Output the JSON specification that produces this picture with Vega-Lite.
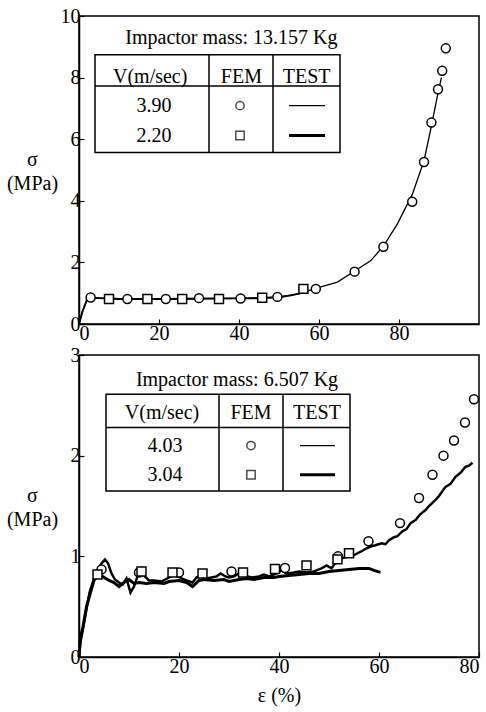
{
"$schema":"https://vega.github.io/schema/vega-lite/v6.json",
"background":"white",
"padding":5,
"spacing":0,
"config":{"view":{"stroke":"black","strokeWidth":1.5},"font":"Liberation Serif",
"axis":{"labelFont":"Liberation Serif","labelFontSize":20,"labelColor":"black","domainColor":"black","domainWidth":1.5,"tickColor":"black","tickSize":-5,"tickWidth":1.2,"labelPadding":4,"grid":false,"titleFont":"Liberation Serif","titleFontSize":20,"titleFontWeight":"normal","titleColor":"black"},
"text":{"font":"Liberation Serif","fontSize":20,"color":"black"}},
"datasets":{
"topFem":[
{"v":"3.90","x":2.9,"y":0.86},{"v":"3.90","x":12.1,"y":0.81},{"v":"3.90","x":21.7,"y":0.81},{"v":"3.90","x":30.0,"y":0.84},{"v":"3.90","x":40.4,"y":0.83},{"v":"3.90","x":49.6,"y":0.88},{"v":"3.90","x":59.2,"y":1.14},{"v":"3.90","x":68.9,"y":1.70},{"v":"3.90","x":76.1,"y":2.51},{"v":"3.90","x":83.3,"y":3.97},{"v":"3.90","x":86.25,"y":5.26},{"v":"3.90","x":88.1,"y":6.54},{"v":"3.90","x":89.75,"y":7.62},{"v":"3.90","x":90.8,"y":8.22},{"v":"3.90","x":91.7,"y":8.95},
{"v":"2.20","x":7.5,"y":0.81},{"v":"2.20","x":17.1,"y":0.81},{"v":"2.20","x":25.8,"y":0.81},{"v":"2.20","x":35.0,"y":0.81},{"v":"2.20","x":45.8,"y":0.85},{"v":"2.20","x":56.1,"y":1.14}],
"topTest":[
{"v":"3.90","x":0,"y":0},{"v":"3.90","x":0.8,"y":0.38},{"v":"3.90","x":2,"y":0.78},{"v":"3.90","x":3,"y":0.88},{"v":"3.90","x":5,"y":0.84},{"v":"3.90","x":10,"y":0.82},{"v":"3.90","x":15,"y":0.82},{"v":"3.90","x":20,"y":0.81},{"v":"3.90","x":25,"y":0.82},{"v":"3.90","x":30,"y":0.83},{"v":"3.90","x":35,"y":0.83},{"v":"3.90","x":40,"y":0.83},{"v":"3.90","x":45,"y":0.85},{"v":"3.90","x":50,"y":0.88},{"v":"3.90","x":55,"y":0.98},{"v":"3.90","x":59.6,"y":1.17},{"v":"3.90","x":64.6,"y":1.36},{"v":"3.90","x":68.9,"y":1.72},{"v":"3.90","x":72.9,"y":2.05},{"v":"3.90","x":76.25,"y":2.55},{"v":"3.90","x":79.6,"y":3.25},{"v":"3.90","x":83.3,"y":4.2},{"v":"3.90","x":86.25,"y":5.3},{"v":"3.90","x":87.9,"y":6.3},{"v":"3.90","x":89.6,"y":7.4},{"v":"3.90","x":90.6,"y":8.0},
{"v":"2.20","x":0,"y":0},{"v":"2.20","x":0.8,"y":0.38},{"v":"2.20","x":2,"y":0.8},{"v":"2.20","x":3,"y":0.85},{"v":"2.20","x":5,"y":0.84},{"v":"2.20","x":10,"y":0.81},{"v":"2.20","x":20,"y":0.81},{"v":"2.20","x":30,"y":0.82},{"v":"2.20","x":40,"y":0.83},{"v":"2.20","x":46,"y":0.84},{"v":"2.20","x":50,"y":0.87},{"v":"2.20","x":53,"y":0.93},{"v":"2.20","x":56,"y":1.02}],
"botFem":[
{"v":"4.03","x":4.5,"y":0.87},{"v":"4.03","x":12,"y":0.84},{"v":"4.03","x":20,"y":0.84},{"v":"4.03","x":30.5,"y":0.85},{"v":"4.03","x":41.2,"y":0.885},{"v":"4.03","x":51.8,"y":1.0},{"v":"4.03","x":57.9,"y":1.15},{"v":"4.03","x":64.2,"y":1.33},{"v":"4.03","x":68.0,"y":1.58},{"v":"4.03","x":70.7,"y":1.81},{"v":"4.03","x":72.9,"y":2.0},{"v":"4.03","x":75.0,"y":2.15},{"v":"4.03","x":77.2,"y":2.33},{"v":"4.03","x":79.0,"y":2.56},
{"v":"3.04","x":3.7,"y":0.82},{"v":"3.04","x":12.5,"y":0.85},{"v":"3.04","x":18.7,"y":0.84},{"v":"3.04","x":24.7,"y":0.83},{"v":"3.04","x":32.8,"y":0.84},{"v":"3.04","x":39.2,"y":0.875},{"v":"3.04","x":45.5,"y":0.91},{"v":"3.04","x":51.7,"y":0.97},{"v":"3.04","x":54.0,"y":1.03}],
"botTest":[
{"v":"4.03","x":0,"y":0},{"v":"4.03","x":0.3,"y":0.15},{"v":"4.03","x":0.7,"y":0.25},{"v":"4.03","x":1.4,"y":0.45},{"v":"4.03","x":2.1,"y":0.64},{"v":"4.03","x":3,"y":0.78},{"v":"4.03","x":3.7,"y":0.86},{"v":"4.03","x":4.5,"y":0.93},{"v":"4.03","x":5.2,"y":0.97},{"v":"4.03","x":5.8,"y":0.93},{"v":"4.03","x":6.5,"y":0.83},{"v":"4.03","x":7.2,"y":0.77},{"v":"4.03","x":8,"y":0.74},{"v":"4.03","x":8.7,"y":0.72},{"v":"4.03","x":9.5,"y":0.78},{"v":"4.03","x":10.3,"y":0.64},{"v":"4.03","x":11,"y":0.7},{"v":"4.03","x":11.7,"y":0.8},{"v":"4.03","x":12.5,"y":0.88},{"v":"4.03","x":13.2,"y":0.8},{"v":"4.03","x":14,"y":0.76},{"v":"4.03","x":15,"y":0.76},{"v":"4.03","x":16.5,"y":0.75},{"v":"4.03","x":18,"y":0.79},{"v":"4.03","x":19.3,"y":0.82},{"v":"4.03","x":20.5,"y":0.78},{"v":"4.03","x":21.5,"y":0.76},{"v":"4.03","x":22.7,"y":0.74},{"v":"4.03","x":23.5,"y":0.79},{"v":"4.03","x":24.5,"y":0.82},{"v":"4.03","x":25.5,"y":0.78},{"v":"4.03","x":26.5,"y":0.79},{"v":"4.03","x":27.5,"y":0.8},{"v":"4.03","x":28.3,"y":0.83},{"v":"4.03","x":29.3,"y":0.8},{"v":"4.03","x":30,"y":0.79},{"v":"4.03","x":31,"y":0.8},{"v":"4.03","x":32,"y":0.83},{"v":"4.03","x":33,"y":0.81},{"v":"4.03","x":34.5,"y":0.79},{"v":"4.03","x":36,"y":0.8},{"v":"4.03","x":37,"y":0.82},{"v":"4.03","x":38,"y":0.8},{"v":"4.03","x":39.5,"y":0.83},{"v":"4.03","x":40.5,"y":0.86},{"v":"4.03","x":41.5,"y":0.83},{"v":"4.03","x":43,"y":0.84},{"v":"4.03","x":44,"y":0.85},{"v":"4.03","x":45.5,"y":0.84},{"v":"4.03","x":47,"y":0.85},{"v":"4.03","x":48.5,"y":0.88},{"v":"4.03","x":49.5,"y":0.91},{"v":"4.03","x":50.5,"y":0.88},{"v":"4.03","x":51.5,"y":0.95},{"v":"4.03","x":52.5,"y":0.98},{"v":"4.03","x":54,"y":1.0},{"v":"4.03","x":55.3,"y":1.02},{"v":"4.03","x":56.5,"y":1.05},{"v":"4.03","x":57.5,"y":1.08},{"v":"4.03","x":58.5,"y":1.1},{"v":"4.03","x":59.3,"y":1.11},{"v":"4.03","x":60.5,"y":1.13},{"v":"4.03","x":61.3,"y":1.12},{"v":"4.03","x":62,"y":1.16},{"v":"4.03","x":63,"y":1.19},{"v":"4.03","x":63.7,"y":1.2},{"v":"4.03","x":64.7,"y":1.25},{"v":"4.03","x":65.5,"y":1.27},{"v":"4.03","x":66.3,"y":1.33},{"v":"4.03","x":67.3,"y":1.36},{"v":"4.03","x":68.3,"y":1.42},{"v":"4.03","x":69.3,"y":1.46},{"v":"4.03","x":70,"y":1.5},{"v":"4.03","x":71.3,"y":1.56},{"v":"4.03","x":72,"y":1.6},{"v":"4.03","x":73.3,"y":1.69},{"v":"4.03","x":74.3,"y":1.72},{"v":"4.03","x":75.3,"y":1.79},{"v":"4.03","x":76.3,"y":1.83},{"v":"4.03","x":77.3,"y":1.89},{"v":"4.03","x":78,"y":1.9},{"v":"4.03","x":78.7,"y":1.93},
{"v":"3.04","x":0,"y":0},{"v":"3.04","x":0.3,"y":0.2},{"v":"3.04","x":0.8,"y":0.3},{"v":"3.04","x":1.5,"y":0.5},{"v":"3.04","x":2.3,"y":0.64},{"v":"3.04","x":3,"y":0.76},{"v":"3.04","x":3.7,"y":0.82},{"v":"3.04","x":4.7,"y":0.8},{"v":"3.04","x":6,"y":0.76},{"v":"3.04","x":7,"y":0.74},{"v":"3.04","x":8,"y":0.7},{"v":"3.04","x":9,"y":0.74},{"v":"3.04","x":10,"y":0.77},{"v":"3.04","x":11,"y":0.73},{"v":"3.04","x":12,"y":0.74},{"v":"3.04","x":13.5,"y":0.73},{"v":"3.04","x":15,"y":0.74},{"v":"3.04","x":17,"y":0.73},{"v":"3.04","x":18,"y":0.75},{"v":"3.04","x":20,"y":0.76},{"v":"3.04","x":21.5,"y":0.74},{"v":"3.04","x":22.7,"y":0.7},{"v":"3.04","x":24,"y":0.76},{"v":"3.04","x":25,"y":0.77},{"v":"3.04","x":27,"y":0.76},{"v":"3.04","x":29,"y":0.77},{"v":"3.04","x":30,"y":0.75},{"v":"3.04","x":32,"y":0.77},{"v":"3.04","x":33.5,"y":0.78},{"v":"3.04","x":35,"y":0.77},{"v":"3.04","x":37,"y":0.79},{"v":"3.04","x":39,"y":0.79},{"v":"3.04","x":40,"y":0.8},{"v":"3.04","x":42,"y":0.81},{"v":"3.04","x":44,"y":0.82},{"v":"3.04","x":46,"y":0.83},{"v":"3.04","x":48,"y":0.83},{"v":"3.04","x":50,"y":0.85},{"v":"3.04","x":52,"y":0.86},{"v":"3.04","x":54,"y":0.87},{"v":"3.04","x":56,"y":0.88},{"v":"3.04","x":58,"y":0.88},{"v":"3.04","x":59,"y":0.86},{"v":"3.04","x":60.3,"y":0.84}]
},
"vconcat":[
{"width":400,"height":308,
"layer":[
{"data":{"name":"topTest"},"mark":{"type":"line","color":"black"},
 "encoding":{"x":{"field":"x","type":"quantitative","scale":{"domain":[0,100],"nice":false},"axis":{"values":[0,20,40,60,80],"title":null}},
 "y":{"field":"y","type":"quantitative","scale":{"domain":[0,10],"nice":false},"axis":{"values":[0,2,4,6,8,10],"format":"d","title":["σ","(MPa)"],"titleAngle":0,"titleAlign":"center","titleBaseline":"alphabetic","titleX":-47,"titleY":149,"titleLineHeight":24}},
 "detail":{"field":"v"},
 "strokeWidth":{"field":"v","type":"nominal","scale":{"domain":["3.90","2.20"],"range":[1.3,3]},"legend":null}}},
{"data":{"name":"topFem"},"mark":{"type":"point","filled":true,"fill":"white","stroke":"black","strokeWidth":1.5,"opacity":1,"size":80},
 "encoding":{"x":{"field":"x","type":"quantitative"},"y":{"field":"y","type":"quantitative"},
 "shape":{"field":"v","type":"nominal","scale":{"domain":["3.90","2.20"],"range":["circle","square"]},"legend":null}}},
{"data":{"values":[{}]},"mark":{"type":"rect","fill":"white","stroke":"black","strokeWidth":1.5},"encoding":{"x":{"datum":4},"x2":{"datum":65.25},"y":{"datum":8.74},"y2":{"datum":5.57}}},
{"data":{"values":[{}]},"mark":{"type":"rule","color":"black","strokeWidth":1.5},"encoding":{"x":{"datum":32.5},"y":{"datum":8.74},"y2":{"datum":5.57}}},
{"data":{"values":[{}]},"mark":{"type":"rule","color":"black","strokeWidth":1.5},"encoding":{"x":{"datum":48.5},"y":{"datum":8.74},"y2":{"datum":5.57}}},
{"data":{"values":[{}]},"mark":{"type":"rule","color":"black","strokeWidth":1.5},"encoding":{"x":{"datum":4},"x2":{"datum":65.25},"y":{"datum":7.73}}},
{"data":{"values":[{}]},"mark":{"type":"text","text":"Impactor mass: 13.157 Kg"},"encoding":{"x":{"datum":38.1},"y":{"datum":9.29}}},
{"data":{"values":[{}]},"mark":{"type":"text","text":"V(m/sec)"},"encoding":{"x":{"datum":17.8},"y":{"datum":8.03}}},
{"data":{"values":[{}]},"mark":{"type":"text","text":"FEM"},"encoding":{"x":{"datum":40.6},"y":{"datum":8.03}}},
{"data":{"values":[{}]},"mark":{"type":"text","text":"TEST"},"encoding":{"x":{"datum":56.9},"y":{"datum":8.03}}},
{"data":{"values":[{}]},"mark":{"type":"text","text":"3.90"},"encoding":{"x":{"datum":18.75},"y":{"datum":7.09}}},
{"data":{"values":[{}]},"mark":{"type":"text","text":"2.20"},"encoding":{"x":{"datum":18.75},"y":{"datum":6.12}}},
{"data":{"values":[{}]},"mark":{"type":"point","shape":"circle","filled":true,"fill":"white","stroke":"black","strokeWidth":1.5,"size":70},"encoding":{"x":{"datum":40.25},"y":{"datum":7.09}}},
{"data":{"values":[{}]},"mark":{"type":"point","shape":"square","filled":true,"fill":"white","stroke":"black","strokeWidth":1.5,"size":70},"encoding":{"x":{"datum":40.25},"y":{"datum":6.12}}},
{"data":{"values":[{}]},"mark":{"type":"rule","color":"black","strokeWidth":1.3},"encoding":{"x":{"datum":52.5},"x2":{"datum":61.5},"y":{"datum":7.09}}},
{"data":{"values":[{}]},"mark":{"type":"rule","color":"black","strokeWidth":3},"encoding":{"x":{"datum":52.5},"x2":{"datum":61.5},"y":{"datum":6.12}}}
]},
{"width":400,"height":302,
"layer":[
{"data":{"name":"botTest"},"mark":{"type":"line","color":"black"},
 "encoding":{"x":{"field":"x","type":"quantitative","scale":{"domain":[0,80],"nice":false},"axis":{"values":[0,20,40,60,80],"title":"ε (%)","titlePadding":9}},
 "y":{"field":"y","type":"quantitative","scale":{"domain":[0,3],"nice":false},"axis":{"values":[0,1,2,3],"format":"d","title":["σ","(MPa)"],"titleAngle":0,"titleAlign":"center","titleBaseline":"alphabetic","titleX":-47,"titleY":146,"titleLineHeight":24}},
 "detail":{"field":"v"},
 "strokeWidth":{"field":"v","type":"nominal","scale":{"domain":["4.03","3.04"],"range":[1.3,3]},"legend":null}}},
{"data":{"name":"botFem"},"mark":{"type":"point","filled":true,"fill":"white","stroke":"black","strokeWidth":1.5,"opacity":1,"size":80},
 "encoding":{"x":{"field":"x","type":"quantitative"},"y":{"field":"y","type":"quantitative"},
 "shape":{"field":"v","type":"nominal","scale":{"domain":["4.03","3.04"],"range":["circle","square"]},"legend":null}}},
{"data":{"values":[{}]},"mark":{"type":"rect","fill":"white","stroke":"black","strokeWidth":1.5},"encoding":{"x":{"datum":5.4},"x2":{"datum":54.2},"y":{"datum":2.61},"y2":{"datum":1.65}}},
{"data":{"values":[{}]},"mark":{"type":"rule","color":"black","strokeWidth":1.5},"encoding":{"x":{"datum":28},"y":{"datum":2.61},"y2":{"datum":1.65}}},
{"data":{"values":[{}]},"mark":{"type":"rule","color":"black","strokeWidth":1.5},"encoding":{"x":{"datum":40.8},"y":{"datum":2.61},"y2":{"datum":1.65}}},
{"data":{"values":[{}]},"mark":{"type":"rule","color":"black","strokeWidth":1.5},"encoding":{"x":{"datum":5.4},"x2":{"datum":54.2},"y":{"datum":2.28}}},
{"data":{"values":[{}]},"mark":{"type":"text","text":"Impactor mass: 6.507 Kg"},"encoding":{"x":{"datum":31.6},"y":{"datum":2.75}}},
{"data":{"values":[{}]},"mark":{"type":"text","text":"V(m/sec)"},"encoding":{"x":{"datum":16.6},"y":{"datum":2.42}}},
{"data":{"values":[{}]},"mark":{"type":"text","text":"FEM"},"encoding":{"x":{"datum":34.4},"y":{"datum":2.42}}},
{"data":{"values":[{}]},"mark":{"type":"text","text":"TEST"},"encoding":{"x":{"datum":47.6},"y":{"datum":2.42}}},
{"data":{"values":[{}]},"mark":{"type":"text","text":"4.03"},"encoding":{"x":{"datum":17.2},"y":{"datum":2.1}}},
{"data":{"values":[{}]},"mark":{"type":"text","text":"3.04"},"encoding":{"x":{"datum":17.2},"y":{"datum":1.81}}},
{"data":{"values":[{}]},"mark":{"type":"point","shape":"circle","filled":true,"fill":"white","stroke":"black","strokeWidth":1.5,"size":70},"encoding":{"x":{"datum":34.4},"y":{"datum":2.1}}},
{"data":{"values":[{}]},"mark":{"type":"point","shape":"square","filled":true,"fill":"white","stroke":"black","strokeWidth":1.5,"size":70},"encoding":{"x":{"datum":34.4},"y":{"datum":1.81}}},
{"data":{"values":[{}]},"mark":{"type":"rule","color":"black","strokeWidth":1.3},"encoding":{"x":{"datum":44.2},"x2":{"datum":51.2},"y":{"datum":2.1}}},
{"data":{"values":[{}]},"mark":{"type":"rule","color":"black","strokeWidth":3},"encoding":{"x":{"datum":44.2},"x2":{"datum":51.2},"y":{"datum":1.81}}}
]}
]
}
